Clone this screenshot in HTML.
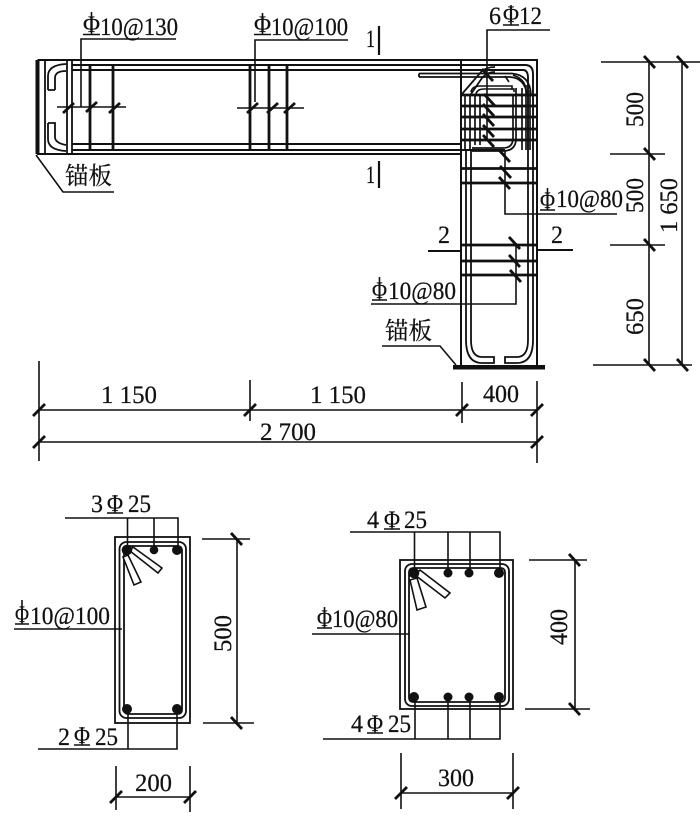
<!DOCTYPE html>
<html><head><meta charset="utf-8"><style>
html,body{margin:0;padding:0;background:#fff}
svg{display:block}
text{font-family:"Liberation Serif","Noto Serif CJK SC",serif;font-size:25px;fill:#111;stroke:#111;stroke-width:.25}
.cn{font-family:"Noto Serif CJK SC","Noto Sans CJK SC",serif;font-size:24px}
.p{font-size:23px}
</style></head><body>
<svg width="700" height="818" viewBox="0 0 700 818" xmlns="http://www.w3.org/2000/svg" fill="none" stroke="#111" stroke-width="1.6">
<!-- beam outer -->
<path d="M37.500 60H537V366M461 60V366M37 154H461" stroke-width="2"/>
<rect x="35.500" y="60" width="4" height="94" fill="#111" stroke="none"/>
<path d="M45 60V154M67 60V154M72 60V154" stroke-width="1.8"/>
<path d="M72 65H525Q533 65 533 74V150M72 70H523Q528 70 528 78V150M72 144H461M72 150H505" stroke-width="1.9"/>
<!-- end hooks -->
<path d="M48 90V76Q48 65 66 64M55 90V78Q55 71 66 71M48 90H55M48 123H55V137Q55 143 66 145M48 123V139Q48 150 66 151" stroke-width="1.8"/>
<!-- beam stirrups -->
<path d="M90 65V150M113 65V150M250 65V150M269 65V150M287 65V150" stroke-width="2.8"/>
<path d="M57 107H126M237 108H304"/>
<path d="M63 113l11-10M86 112l11-10M109 113l11-10M247 113l11-10M267 113l11-10M284 113l11-10" stroke-width="2.8"/>
<path d="M81 107V39H176M255 102V40H348"/>
<!-- corner -->
<path d="M419 73.500H512Q530 75 531 95M419 77H510Q525 78 527 95M419 73.500V77" stroke-width="1.8"/>
<path d="M462 94L481 72Q486 67 495 67M471 94L482 78Q487 72 495 72" stroke-width="1.8"/>
<path d="M471 92Q472 86 480 86H512V90M476 94Q477 89 484 89H514V92" stroke-width="1.6"/>
<path d="M505 76L509 82M513 75Q522 78 525 85" stroke-width="1.6"/>
<path d="M465 94V150M470 94V150M475 94V145M480 94V145M513 94V138Q513 148 503 148H472M516 88V140Q515 151 503 151H472M522 88V150M526 85V150M530 90V150" stroke-width="1.7"/>
<path d="M461 95H537M461 106H537M461 117H537M461 129H537M461 140H537M461 168.500H537M461 183H537M461 245H537M461 261H537M461 275H537" stroke-width="2.8"/>
<!-- column lower verticals -->
<path d="M466 150V340Q466 363 482 363H494V357H482Q471 357 471 340V150M533 150V340Q533 363 517 363H505V357H517Q528 357 528 340V150" stroke-width="1.8"/>
<rect x="453" y="365" width="92" height="4.500" fill="#111" stroke="none"/>
<path d="M382 346H440L456 365"/>
<path d="M36 155L63 192H114"/>
<!-- leaders right column -->
<path d="M487 140V30H550M505 150V214H617M516 243V304H371"/>
<path d="M482 69l11 12M484 94l11 12M483 104l11 12M483 114l11 12M483 125l11 12M483 135l11 12M499 150l11 12M500 166l11 12M499 177l11 12M509 237l11 12M509 255l11 12M510 270l11 12" stroke-width="2.8"/>
<!-- section marks -->
<path d="M379 26V55M379 161V188" stroke-width="2.2"/>
<path d="M428 251H460M537 250H573" stroke-width="2"/>
<!-- right dims -->
<path d="M601 62H700M610 154H665M610 245H665M593 365H692M649 62V365M682 62V365"/>
<path d="M644 56l11 12M677 56l11 12M644 148l11 12M644 239l11 12M644 359l11 12M677 359l11 12" stroke-width="2.8"/>
<!-- bottom dims -->
<path d="M39 361V461M250 380V421M462 382V423M537 381V463M39 410H537M39 442H537"/>
<path d="M33 416l12-12M244 416l12-12M456 416l12-12M531 416l12-12M33 448l12-12M531 448l12-12" stroke-width="2.8"/>
<!-- section 1 -->
<rect x="115" y="537" width="75" height="186" stroke-width="1.8"/>
<rect x="119.500" y="542" width="66.500" height="176" rx="7" stroke-width="1.8"/>
<rect x="124" y="546" width="58" height="168" rx="4" stroke-width="1.8"/>
<path d="M133 547L162 568L158 573L130 551ZM123 557L134 585L141 582L128 555Z" fill="#fff" stroke-width="1.6"/>
<g fill="#111" stroke="none"><circle cx="127" cy="550" r="5.300"/><circle cx="154" cy="550" r="4.300"/><circle cx="177" cy="550" r="5"/><circle cx="127" cy="709" r="5"/><circle cx="177" cy="709" r="5"/></g>
<path d="M65 518H178V550M127.500 518V550M154 518V550M38 749H177V709M128 709V749M14 629H122M202 539H250M203 723H254M237 539V723M116 766V810M190 766V812M116 797H190"/>
<path d="M231 533l11 12M231 717l11 12M110 803l12-12M184 803l12-12" stroke-width="2.8"/>
<!-- section 2 -->
<rect x="400" y="560" width="113" height="149" stroke-width="1.8"/>
<rect x="405" y="564" width="104" height="142" rx="7" stroke-width="1.8"/>
<rect x="409" y="568" width="96" height="134" rx="4" stroke-width="1.8"/>
<path d="M420 570L450 593L445 598L415 575ZM410 580L417 610L426 607L417 578Z" fill="#fff" stroke-width="1.6"/>
<g fill="#111" stroke="none"><circle cx="414" cy="573" r="5.300"/><circle cx="448" cy="573" r="4.500"/><circle cx="469" cy="573" r="4.500"/><circle cx="499" cy="573" r="5"/><circle cx="414" cy="697" r="5"/><circle cx="448" cy="697" r="4.500"/><circle cx="469" cy="697" r="4.500"/><circle cx="499" cy="697" r="5"/></g>
<path d="M350 532H500V573M414.500 532V573M448 532V573M470 532V573M323 739H500V697M415 697V739M448 697V739M470 697V739M312 634H409M529 560H587M525 709H590M575 560V709M401 753V809M513 753V809M401 793H513"/>
<path d="M569 554l11 12M569 703l11 12M395 799l12-12M507 799l12-12" stroke-width="2.8"/>
<!-- phi underlines and stems -->
<path d="M83 34.500H100M91.500 12V34M254 34.500H271M262.500 13V34M503 25H519M511 5V25M540 210H555M547.500 188V210M372 300H387M379.500 277V300M15 624H29M22 600V624M317 628H332M324.500 607V628M107 513H123M115 495V513M74 745H90M82 727V745M384 529H400M392 513V529M367 733H383M375 717V733" stroke-width="1.6"/>
<g>
<text class="p" x="83" y="32" textLength="17" lengthAdjust="spacingAndGlyphs">Φ</text>
<text x="100" y="35" textLength="78" lengthAdjust="spacingAndGlyphs">10@130</text>
<text class="p" x="254" y="32" textLength="17" lengthAdjust="spacingAndGlyphs">Φ</text>
<text x="271" y="35" textLength="77" lengthAdjust="spacingAndGlyphs">10@100</text>
<text x="489" y="24" textLength="12" lengthAdjust="spacingAndGlyphs">6</text>
<text class="p" x="503" y="22" textLength="16" lengthAdjust="spacingAndGlyphs">Φ</text>
<text x="519" y="24" textLength="23" lengthAdjust="spacingAndGlyphs">12</text>
<text x="366" y="47" textLength="9" lengthAdjust="spacingAndGlyphs">1</text>
<text x="366" y="183" textLength="9" lengthAdjust="spacingAndGlyphs">1</text>
<text class="cn" x="65" y="184" textLength="47" lengthAdjust="spacingAndGlyphs">锚板</text>
<text class="cn" x="385" y="339" textLength="47" lengthAdjust="spacingAndGlyphs">锚板</text>
<text class="p" x="540" y="208" textLength="15" lengthAdjust="spacingAndGlyphs">Φ</text>
<text x="556" y="207" textLength="67" lengthAdjust="spacingAndGlyphs">10@80</text>
<text class="p" x="372" y="298" textLength="15" lengthAdjust="spacingAndGlyphs">Φ</text>
<text x="388" y="299" textLength="68" lengthAdjust="spacingAndGlyphs">10@80</text>
<text x="438" y="243" textLength="12" lengthAdjust="spacingAndGlyphs">2</text>
<text x="551" y="243" textLength="12" lengthAdjust="spacingAndGlyphs">2</text>
<text x="101" y="403" textLength="56" lengthAdjust="spacingAndGlyphs" xml:space="preserve">1 150</text>
<text x="310" y="403" textLength="56" lengthAdjust="spacingAndGlyphs" xml:space="preserve">1 150</text>
<text x="260" y="440" textLength="56" lengthAdjust="spacingAndGlyphs" xml:space="preserve">2 700</text>
<text x="483" y="402" textLength="36" lengthAdjust="spacingAndGlyphs">400</text>
<text transform="translate(643,127) rotate(-90)" textLength="35" lengthAdjust="spacingAndGlyphs">500</text>
<text transform="translate(643,213) rotate(-90)" textLength="35" lengthAdjust="spacingAndGlyphs">500</text>
<text transform="translate(643,335) rotate(-90)" textLength="37" lengthAdjust="spacingAndGlyphs">650</text>
<text transform="translate(677,233) rotate(-90)" textLength="55" lengthAdjust="spacingAndGlyphs" xml:space="preserve">1 650</text>
<!-- section 1 labels -->
<text x="91" y="512" textLength="12" lengthAdjust="spacingAndGlyphs">3</text>
<text class="p" x="107" y="511" textLength="16" lengthAdjust="spacingAndGlyphs">Φ</text>
<text x="128" y="512" textLength="23" lengthAdjust="spacingAndGlyphs">25</text>
<text class="p" x="15" y="622" textLength="14" lengthAdjust="spacingAndGlyphs">Φ</text>
<text x="30" y="624" textLength="80" lengthAdjust="spacingAndGlyphs">10@100</text>
<text x="58" y="745" textLength="12" lengthAdjust="spacingAndGlyphs">2</text>
<text class="p" x="74" y="743" textLength="16" lengthAdjust="spacingAndGlyphs">Φ</text>
<text x="95" y="745" textLength="23" lengthAdjust="spacingAndGlyphs">25</text>
<text transform="translate(231,652) rotate(-90)" textLength="37" lengthAdjust="spacingAndGlyphs">500</text>
<text x="135" y="791" textLength="37" lengthAdjust="spacingAndGlyphs">200</text>
<!-- section 2 labels -->
<text x="367" y="528" textLength="12" lengthAdjust="spacingAndGlyphs">4</text>
<text class="p" x="384" y="527" textLength="16" lengthAdjust="spacingAndGlyphs">Φ</text>
<text x="404" y="528" textLength="23" lengthAdjust="spacingAndGlyphs">25</text>
<text x="351" y="732" textLength="12" lengthAdjust="spacingAndGlyphs">4</text>
<text class="p" x="367" y="731" textLength="16" lengthAdjust="spacingAndGlyphs">Φ</text>
<text x="388" y="732" textLength="23" lengthAdjust="spacingAndGlyphs">25</text>
<text class="p" x="317" y="626" textLength="15" lengthAdjust="spacingAndGlyphs">Φ</text>
<text x="332" y="627" textLength="66" lengthAdjust="spacingAndGlyphs">10@80</text>
<text transform="translate(567,645) rotate(-90)" textLength="36" lengthAdjust="spacingAndGlyphs">400</text>
<text x="438" y="786" textLength="36" lengthAdjust="spacingAndGlyphs">300</text>
</g>
</svg>
</body></html>
